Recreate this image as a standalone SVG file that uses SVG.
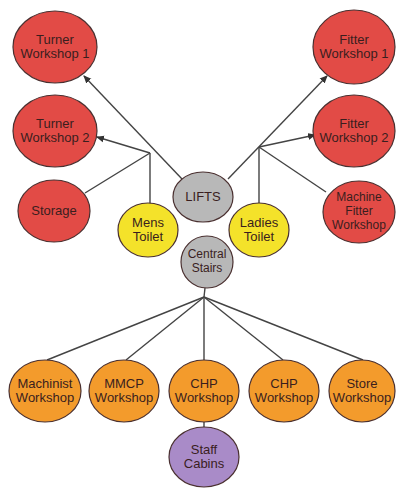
<svg xmlns="http://www.w3.org/2000/svg" width="396" height="490" viewBox="0 0 396 490">
<defs>
<marker id="arr" markerWidth="8" markerHeight="8" refX="7" refY="4" orient="auto" markerUnits="userSpaceOnUse">
<path d="M0,0.5 L8,4 L0,7.5 Z" fill="#333"/>
</marker>
<style>
.n{stroke:#4a3030;stroke-width:1.2}
.red{fill:#e24b46}
.yel{fill:#f4e22a}
.gry{fill:#b8b8b8}
.org{fill:#f39b2c}
.pur{fill:#a98bc8}
text{font-family:"Liberation Sans",Arial,sans-serif;font-size:13px;fill:#3a1e1e;text-anchor:middle}
text.s{font-size:12px}
.c line{stroke:#444;stroke-width:1.4;fill:none}
</style>
</defs>
<rect width="396" height="490" fill="#fff"/>
<g class="c" id="connectors">
<line x1="182" y1="179" x2="84" y2="76" marker-end="url(#arr)"/>
<line x1="150" y1="153" x2="97" y2="137" marker-end="url(#arr)"/>
<line x1="150" y1="153" x2="85" y2="193"/>
<line x1="150" y1="153" x2="150" y2="204"/>
<line x1="228" y1="179" x2="327" y2="76" marker-end="url(#arr)"/>
<line x1="259" y1="147" x2="315" y2="135" marker-end="url(#arr)"/>
<line x1="259" y1="147" x2="326" y2="192"/>
<line x1="259" y1="147" x2="259" y2="204"/>
<line x1="205" y1="288" x2="204" y2="297"/>
<line x1="204" y1="297" x2="47" y2="360"/>
<line x1="204" y1="297" x2="126" y2="360"/>
<line x1="204" y1="297" x2="204" y2="360"/>
<line x1="204" y1="297" x2="283" y2="360"/>
<line x1="204" y1="297" x2="363" y2="360"/>
<line x1="204" y1="422" x2="204" y2="427"/>
</g>
<g id="turner1"><ellipse class="n red" cx="55" cy="47" rx="42" ry="36"/><text x="55" y="44">Turner</text><text x="55" y="58">Workshop 1</text></g>
<g id="turner2"><ellipse class="n red" cx="55" cy="131" rx="42" ry="36"/><text x="55" y="128">Turner</text><text x="55" y="142">Workshop 2</text></g>
<g id="storage"><ellipse class="n red" cx="54" cy="211" rx="36" ry="31"/><text x="54" y="215">Storage</text></g>
<g id="fitter1"><ellipse class="n red" cx="354" cy="47" rx="41" ry="37"/><text x="354" y="44">Fitter</text><text x="354" y="58">Workshop 1</text></g>
<g id="fitter2"><ellipse class="n red" cx="354" cy="131" rx="41" ry="36"/><text x="354" y="128">Fitter</text><text x="354" y="142">Workshop 2</text></g>
<g id="machinefitter"><ellipse class="n red" cx="359" cy="212" rx="36" ry="31"/><text class="s" x="359" y="201">Machine</text><text class="s" x="359" y="215">Fitter</text><text class="s" x="359" y="229">Workshop</text></g>
<g id="lifts"><ellipse class="n gry" cx="203" cy="197" rx="30" ry="25"/><text x="203" y="201">LIFTS</text></g>
<g id="menstoilet"><ellipse class="n yel" cx="148" cy="230" rx="30" ry="27"/><text x="148" y="227">Mens</text><text x="148" y="241">Toilet</text></g>
<g id="ladiestoilet"><ellipse class="n yel" cx="259" cy="230" rx="30" ry="27"/><text x="259" y="227">Ladies</text><text x="259" y="241">Toilet</text></g>
<g id="centralstairs"><ellipse class="n gry" cx="207" cy="262" rx="26" ry="26"/><text class="s" x="207" y="258">Central</text><text class="s" x="207" y="272">Stairs</text></g>
<g id="machinist"><ellipse class="n org" cx="45" cy="391" rx="36" ry="31"/><text x="45" y="388">Machinist</text><text x="45" y="402">Workshop</text></g>
<g id="mmcp"><ellipse class="n org" cx="124" cy="391" rx="35" ry="31"/><text x="124" y="388">MMCP</text><text x="124" y="402">Workshop</text></g>
<g id="chp1"><ellipse class="n org" cx="204" cy="391" rx="35" ry="31"/><text x="204" y="388">CHP</text><text x="204" y="402">Workshop</text></g>
<g id="chp2"><ellipse class="n org" cx="284" cy="391" rx="35" ry="31"/><text x="284" y="388">CHP</text><text x="284" y="402">Workshop</text></g>
<g id="store"><ellipse class="n org" cx="362" cy="391" rx="33" ry="31"/><text x="362" y="388">Store</text><text x="362" y="402">Workshop</text></g>
<g id="staffcabins"><ellipse class="n pur" cx="204" cy="457" rx="35" ry="30"/><text x="204" y="454">Staff</text><text x="204" y="468">Cabins</text></g>
</svg>
